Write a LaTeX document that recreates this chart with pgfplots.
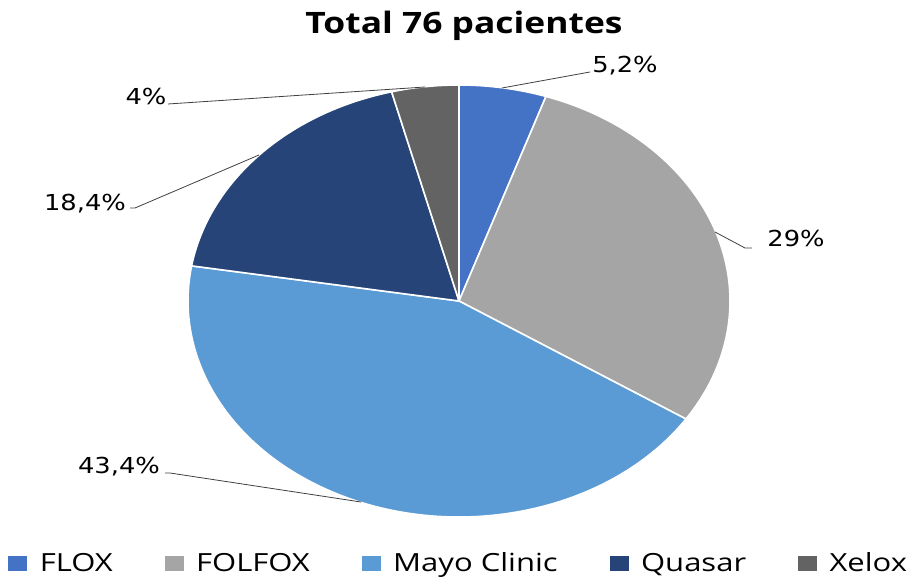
\documentclass[border=0pt]{standalone}
\usepackage{pgfplots}
\pgfplotsset{compat=1.18}
\usepackage{fontspec}
\setmainfont{Open Sans}
\newfontfamily\titlefont[FakeStretch=1.2]{Open Sans}
\newfontfamily\legfont[FakeStretch=1.24]{Open Sans}
\newfontfamily\labfont[FakeStretch=1.17]{DejaVu Sans}
\definecolor{cFLOX}{HTML}{4472C4}
\definecolor{cFOLFOX}{HTML}{A5A5A5}
\definecolor{cMayo}{HTML}{5B9BD5}
\definecolor{cQuasar}{HTML}{264478}
\definecolor{cXelox}{HTML}{636363}
\definecolor{leader}{HTML}{404040}
% data (percent)
\def\vFLOX{5.2}
\def\vFOLFOX{29}
\def\vMayo{43.4}
\def\vQuasar{18.4}
\def\vXelox{4}
\pgfmathsetmacro\aA{90}
\pgfmathsetmacro\aB{\aA-3.6*\vFLOX}
\pgfmathsetmacro\aC{\aB-3.6*\vFOLFOX}
\pgfmathsetmacro\aD{\aC-3.6*\vMayo}
\pgfmathsetmacro\aE{\aD-3.6*\vQuasar}
\pgfmathsetmacro\aF{\aE-3.6*\vXelox}
\def\cx{459}
\def\cy{277}
\def\rx{271}
\def\ry{216}
\newcommand\slice[3]{%
  \filldraw[fill=#1, draw=white, line width=1.6pt, line join=round]
    (axis cs:\cx,\cy) -- (axis cs:{\cx+\rx*cos(#2)},{\cy+\ry*sin(#2)})
    arc[start angle=#2, end angle=#3, x radius=\rx pt, y radius=\ry pt] -- cycle;}
\newcommand\legsq[1]{\addlegendimage{legend image code/.code={\fill[#1] (0pt,-7.5pt) rectangle (18pt,6.5pt); \path (29pt,0pt);}}}
\begin{document}
\begin{tikzpicture}
\begin{axis}[
  width=912pt, height=578pt, scale only axis,
  xmin=0, xmax=912, ymin=0, ymax=578,
  hide axis, clip=false,
  legend columns=5,
  legend style={draw=none, fill=none, inner sep=0pt,
    font=\legfont\fontsize{25}{30}\selectfont,
    at={(0.5030,0.026)}, anchor=center,
    /tikz/every even column/.append style={column sep=50pt}},
]
\path (axis cs:0,0) rectangle (axis cs:912,578);
\slice{cFLOX}{\aA}{\aB}
\slice{cFOLFOX}{\aB}{\aC}
\slice{cMayo}{\aC}{\aD}
\slice{cQuasar}{\aD}{\aE}
\slice{cXelox}{\aE}{\aF}
% leader lines
\addplot[leader, line width=0.8pt, forget plot] coordinates {(502,490) (590,506)};
\addplot[leader, line width=0.8pt, forget plot] coordinates {(715,346) (745,330) (752,330)};
\addplot[leader, line width=0.8pt, forget plot] coordinates {(361,76) (170,105) (165,105)};
\addplot[leader, line width=0.8pt, forget plot] coordinates {(259,423) (135,370) (130,370)};
\addplot[leader, line width=0.8pt, forget plot] coordinates {(425,491) (168,474)};
% labels
\node[anchor=base, inner sep=0pt, font=\labfont\fontsize{22}{22}\selectfont] at (axis cs:625,505) {5,2\%};
\node[anchor=base, inner sep=0pt, font=\labfont\fontsize{22}{22}\selectfont] at (axis cs:796,331) {29\%};
\node[anchor=base, inner sep=0pt, font=\labfont\fontsize{22}{22}\selectfont] at (axis cs:119,104) {43,4\%};
\node[anchor=base, inner sep=0pt, font=\labfont\fontsize{22}{22}\selectfont] at (axis cs:85,367) {18,4\%};
\node[anchor=base, inner sep=0pt, font=\labfont\fontsize{22}{22}\selectfont] at (axis cs:146,473) {4\%};
% title
\node[anchor=base, inner sep=0pt, font=\titlefont\bfseries\fontsize{29.5}{30}\selectfont] at (axis cs:464,544) {Total 76 pacientes};
% legend
\legsq{cFLOX}
\addlegendentry{FLOX}
\legsq{cFOLFOX}
\addlegendentry{FOLFOX}
\legsq{cMayo}
\addlegendentry{Mayo Clinic}
\legsq{cQuasar}
\addlegendentry{Quasar}
\legsq{cXelox}
\addlegendentry{Xelox}
\end{axis}
\end{tikzpicture}
\end{document}
